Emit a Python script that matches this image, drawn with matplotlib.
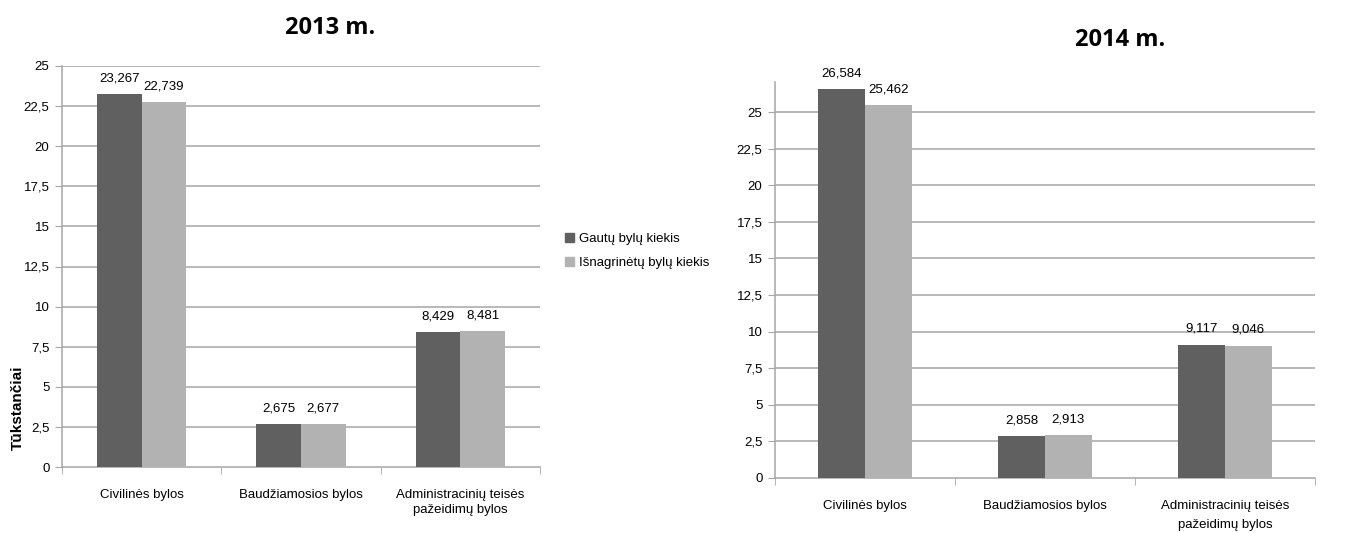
import numpy as np
import matplotlib
matplotlib.use("Agg")
from matplotlib import pyplot as plt
from matplotlib.patches import Patch
from matplotlib.ticker import FuncFormatter

plt.rcParams['font.family'] = ['Liberation Sans', 'DejaVu Sans']

categories = ['Civilinės bylos', 'Baudžiamosios bylos', 'Administracinių teisės\npažeidimų bylos']
series_names = ['Gautų bylų kiekis', 'Išnagrinėtų bylų kiekis']
gauta_2013 = [23.267, 2.675, 8.429]
isnagr_2013 = [22.739, 2.677, 8.481]
gauta_2014 = [26.584, 2.858, 9.117]
isnagr_2014 = [25.462, 2.913, 9.046]
yticks = [0, 2.5, 5, 7.5, 10, 12.5, 15, 17.5, 20, 22.5, 25]

dark = '#606060'
light = '#b2b2b2'
gridc = '#a6a6a6'

fig = plt.figure(figsize=(13.45, 5.33), dpi=100)
ax1 = fig.add_axes([62/1345, 1-467/533, (540-62)/1345, (467-66)/533])
ax2 = fig.add_axes([775/1345, 1-478/533, (1315-775)/1345, (478-82)/533])

def fmt(v, pos=None):
    return ('%g' % v).replace('.', ',')

def draw(ax, a, b, ymax, w, lsp):
    x = np.arange(len(categories))
    b1 = ax.bar(x - w/2, a, w, color=dark, zorder=3)
    b2 = ax.bar(x + w/2, b, w, color=light, zorder=3)
    for bars, vals in ((b1, a), (b2, b)):
        for r, v in zip(bars, vals):
            ax.annotate(('%.3f' % v).replace('.', ','), (r.get_x() + r.get_width()/2, v),
                        xytext=(0, 7), textcoords='offset points', ha='center', va='bottom',
                        fontsize=9.5)
    ax.set_xlim(-0.5, len(categories) - 0.5)
    ax.set_ylim(0, ymax)
    ax.set_yticks(yticks)
    ax.yaxis.set_major_formatter(FuncFormatter(fmt))
    ax.set_xticks(x)
    ax.set_xticklabels(categories, fontsize=9.5, linespacing=lsp, va='top')
    ax.set_xticks(np.arange(len(categories) + 1) - 0.5, minor=True)
    ax.tick_params(axis='x', which='major', length=0, pad=16)
    ax.tick_params(axis='x', which='minor', length=5, color=gridc, direction='out')
    ax.tick_params(axis='y', length=5, color=gridc, labelsize=9.5, pad=4)
    for yv in yticks[1:]:
        ax.axhline(yv, color=gridc, lw=1.1, zorder=1)
    for s in ('top', 'right'):
        ax.spines[s].set_visible(False)
    for s in ('left', 'bottom'):
        ax.spines[s].set_color(gridc)
        ax.spines[s].set_linewidth(1.1)

draw(ax1, gauta_2013, isnagr_2013, 25, 0.28, 1.35)
draw(ax2, gauta_2014, isnagr_2014, 27.05, 0.26, 1.7)

fig.text(330/1345, 1-28/533, '2013 m.', ha='center', va='center', fontsize=17,
         fontweight='bold', family=['Open Sans', 'DejaVu Sans'])
fig.text(1120/1345, 1-40/533, '2014 m.', ha='center', va='center', fontsize=17,
         fontweight='bold', family=['Open Sans', 'DejaVu Sans'])
fig.text(18/1345, 1-408/533, 'Tūkstančiai', rotation=90, ha='center', va='center',
         fontsize=11, fontweight='bold')

handles = [Patch(color=dark), Patch(color=light)]
fig.legend(handles, series_names, loc='upper left', bbox_to_anchor=(553/1345, 1-221/533),
           frameon=False, fontsize=9.5, handlelength=0.7, handleheight=0.7,
           handletextpad=0.4, labelspacing=0.9)

fig.savefig('out.png', dpi=100)
